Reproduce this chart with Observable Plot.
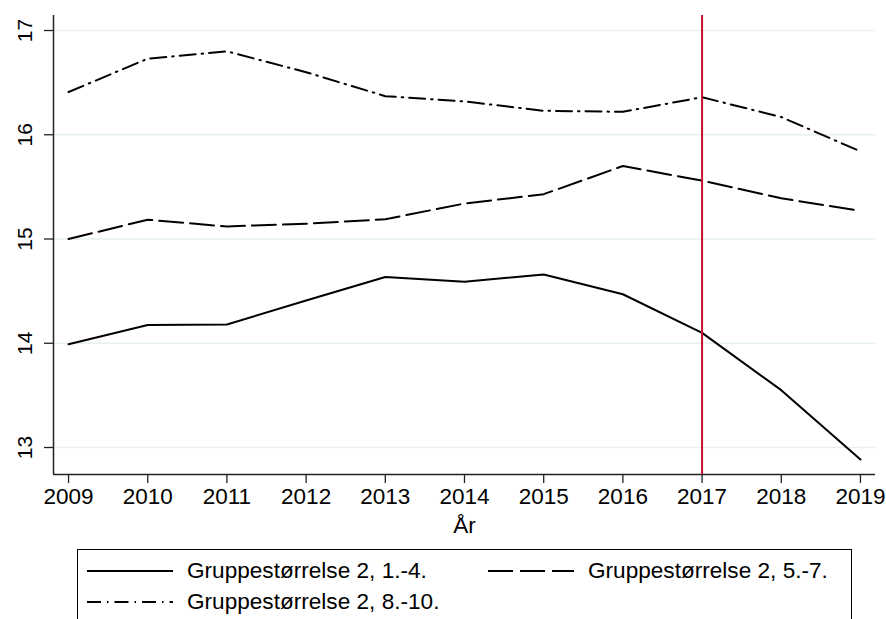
<!DOCTYPE html>
<html>
<head>
<meta charset="utf-8">
<script src="https://cdn.jsdelivr.net/npm/d3@7"></script>
<script src="https://cdn.jsdelivr.net/npm/@observablehq/plot@0.6"></script>
<style>
  body { margin: 0; background: #fff; font-family: "Liberation Sans", Arial, sans-serif; }
  #chart { position: relative; width: 886px; height: 619px; overflow: hidden; }
  #legend { position: absolute; left: 77px; top: 549px; width: 775px; height: 90px; border: 1.5px solid #000; box-sizing: border-box; }
  .item { position: absolute; display: flex; align-items: center; font-size: 22.6px; color: #000; white-space: nowrap; }
  .item svg { margin-right: 13px; }
</style>
</head>
<body>
<div id="chart"></div>
<script>
const years = [2009, 2010, 2011, 2012, 2013, 2014, 2015, 2016, 2017, 2018, 2019];
const seriesNames = ["Gruppestørrelse 2, 1.-4.", "Gruppestørrelse 2, 5.-7.", "Gruppestørrelse 2, 8.-10."];
const g1_4  = [13.99, 14.175, 14.18, 14.41, 14.635, 14.59, 14.66, 14.47, 14.10, 13.55, 12.885];
const g5_7  = [15.00, 15.185, 15.12, 15.147, 15.19, 15.34, 15.43, 15.70, 15.56, 15.39, 15.27];
const g8_10 = [16.41, 16.73, 16.80, 16.60, 16.37, 16.32, 16.23, 16.22, 16.36, 16.17, 15.84];
const yTicks = [13, 14, 15, 16, 17];
const markerYear = 2017;
const xLabel = "År";

const dashes = ["none", "24 7", "16 6 1.5 6"];
const allValues = [g1_4, g5_7, g8_10];
const rows = [];
allValues.forEach((vals, si) => vals.forEach((v, i) => rows.push({year: years[i], value: v, series: seriesNames[si]})));

const W = 886, ML = 53, MR = 11;
const xDom = [2008.81, 2019.19];
const yDom = [12.741, 17.144];
const pxPerYear = (W - ML - MR) / (xDom[1] - xDom[0]);
const tickLen = 9 / pxPerYear;

const plot = Plot.plot({
  width: W,
  height: 548,
  marginLeft: ML,
  marginRight: MR,
  marginTop: 15,
  marginBottom: 74,
  style: { fontFamily: '"Liberation Sans", Arial, sans-serif', background: "#fff", color: "#000" },
  x: { domain: xDom },
  y: { domain: yDom },
  marks: [
    Plot.gridY(yTicks, { stroke: "#e6eff1", strokeOpacity: 1, strokeWidth: 1.6 }),
    Plot.ruleX([xDom[0]], { stroke: "#222", strokeWidth: 1.5 }),
    Plot.ruleY([yDom[0]], { stroke: "#222", strokeWidth: 1.5 }),
    Plot.ruleY(yTicks, { x1: xDom[0] - tickLen, x2: xDom[0], stroke: "#222", strokeWidth: 1.3, clip: false }),
    Plot.axisY(yTicks, { tickSize: 0, tickPadding: 28, tickFormat: d => String(d), fontSize: 21, textAnchor: "middle", rotate: -90, label: null }),
    Plot.axisX(years, { tickSize: 9, tickPadding: 5, tickFormat: d => String(d), fontSize: 22.5, label: xLabel, labelArrow: "none", labelAnchor: "center", labelOffset: 58, stroke: "#222", strokeWidth: 1.3 }),
    ...seriesNames.map((name, si) =>
      Plot.line(rows.filter(r => r.series === name), {
        x: "year", y: "value", stroke: "#000", strokeWidth: 2,
        strokeDasharray: dashes[si], strokeLinejoin: "round"
      })
    ),
    Plot.ruleX([markerYear], { y1: yDom[0], y2: yDom[1], stroke: "#c4102f", strokeWidth: 2 })
  ]
});
document.getElementById("chart").appendChild(plot);

// legend
const legend = document.createElement("div");
legend.id = "legend";
const pos = [[8, 21], [409, 21], [8, 52]];
seriesNames.forEach((name, si) => {
  const it = document.createElement("div");
  it.className = "item";
  it.style.left = pos[si][0] + "px";
  it.style.top = (pos[si][1] - 15) + "px";
  it.style.height = "30px";
  it.innerHTML = `<svg width="88" height="10"><line x1="1" y1="5" x2="87" y2="5" stroke="#000" stroke-width="2" stroke-dasharray="${dashes[si] === "none" ? "" : (si === 1 ? "25 7" : "14 6 1.5 6")}"/></svg><span>${name}</span>`;
  legend.appendChild(it);
});
document.getElementById("chart").appendChild(legend);
</script>
</body>
</html>
